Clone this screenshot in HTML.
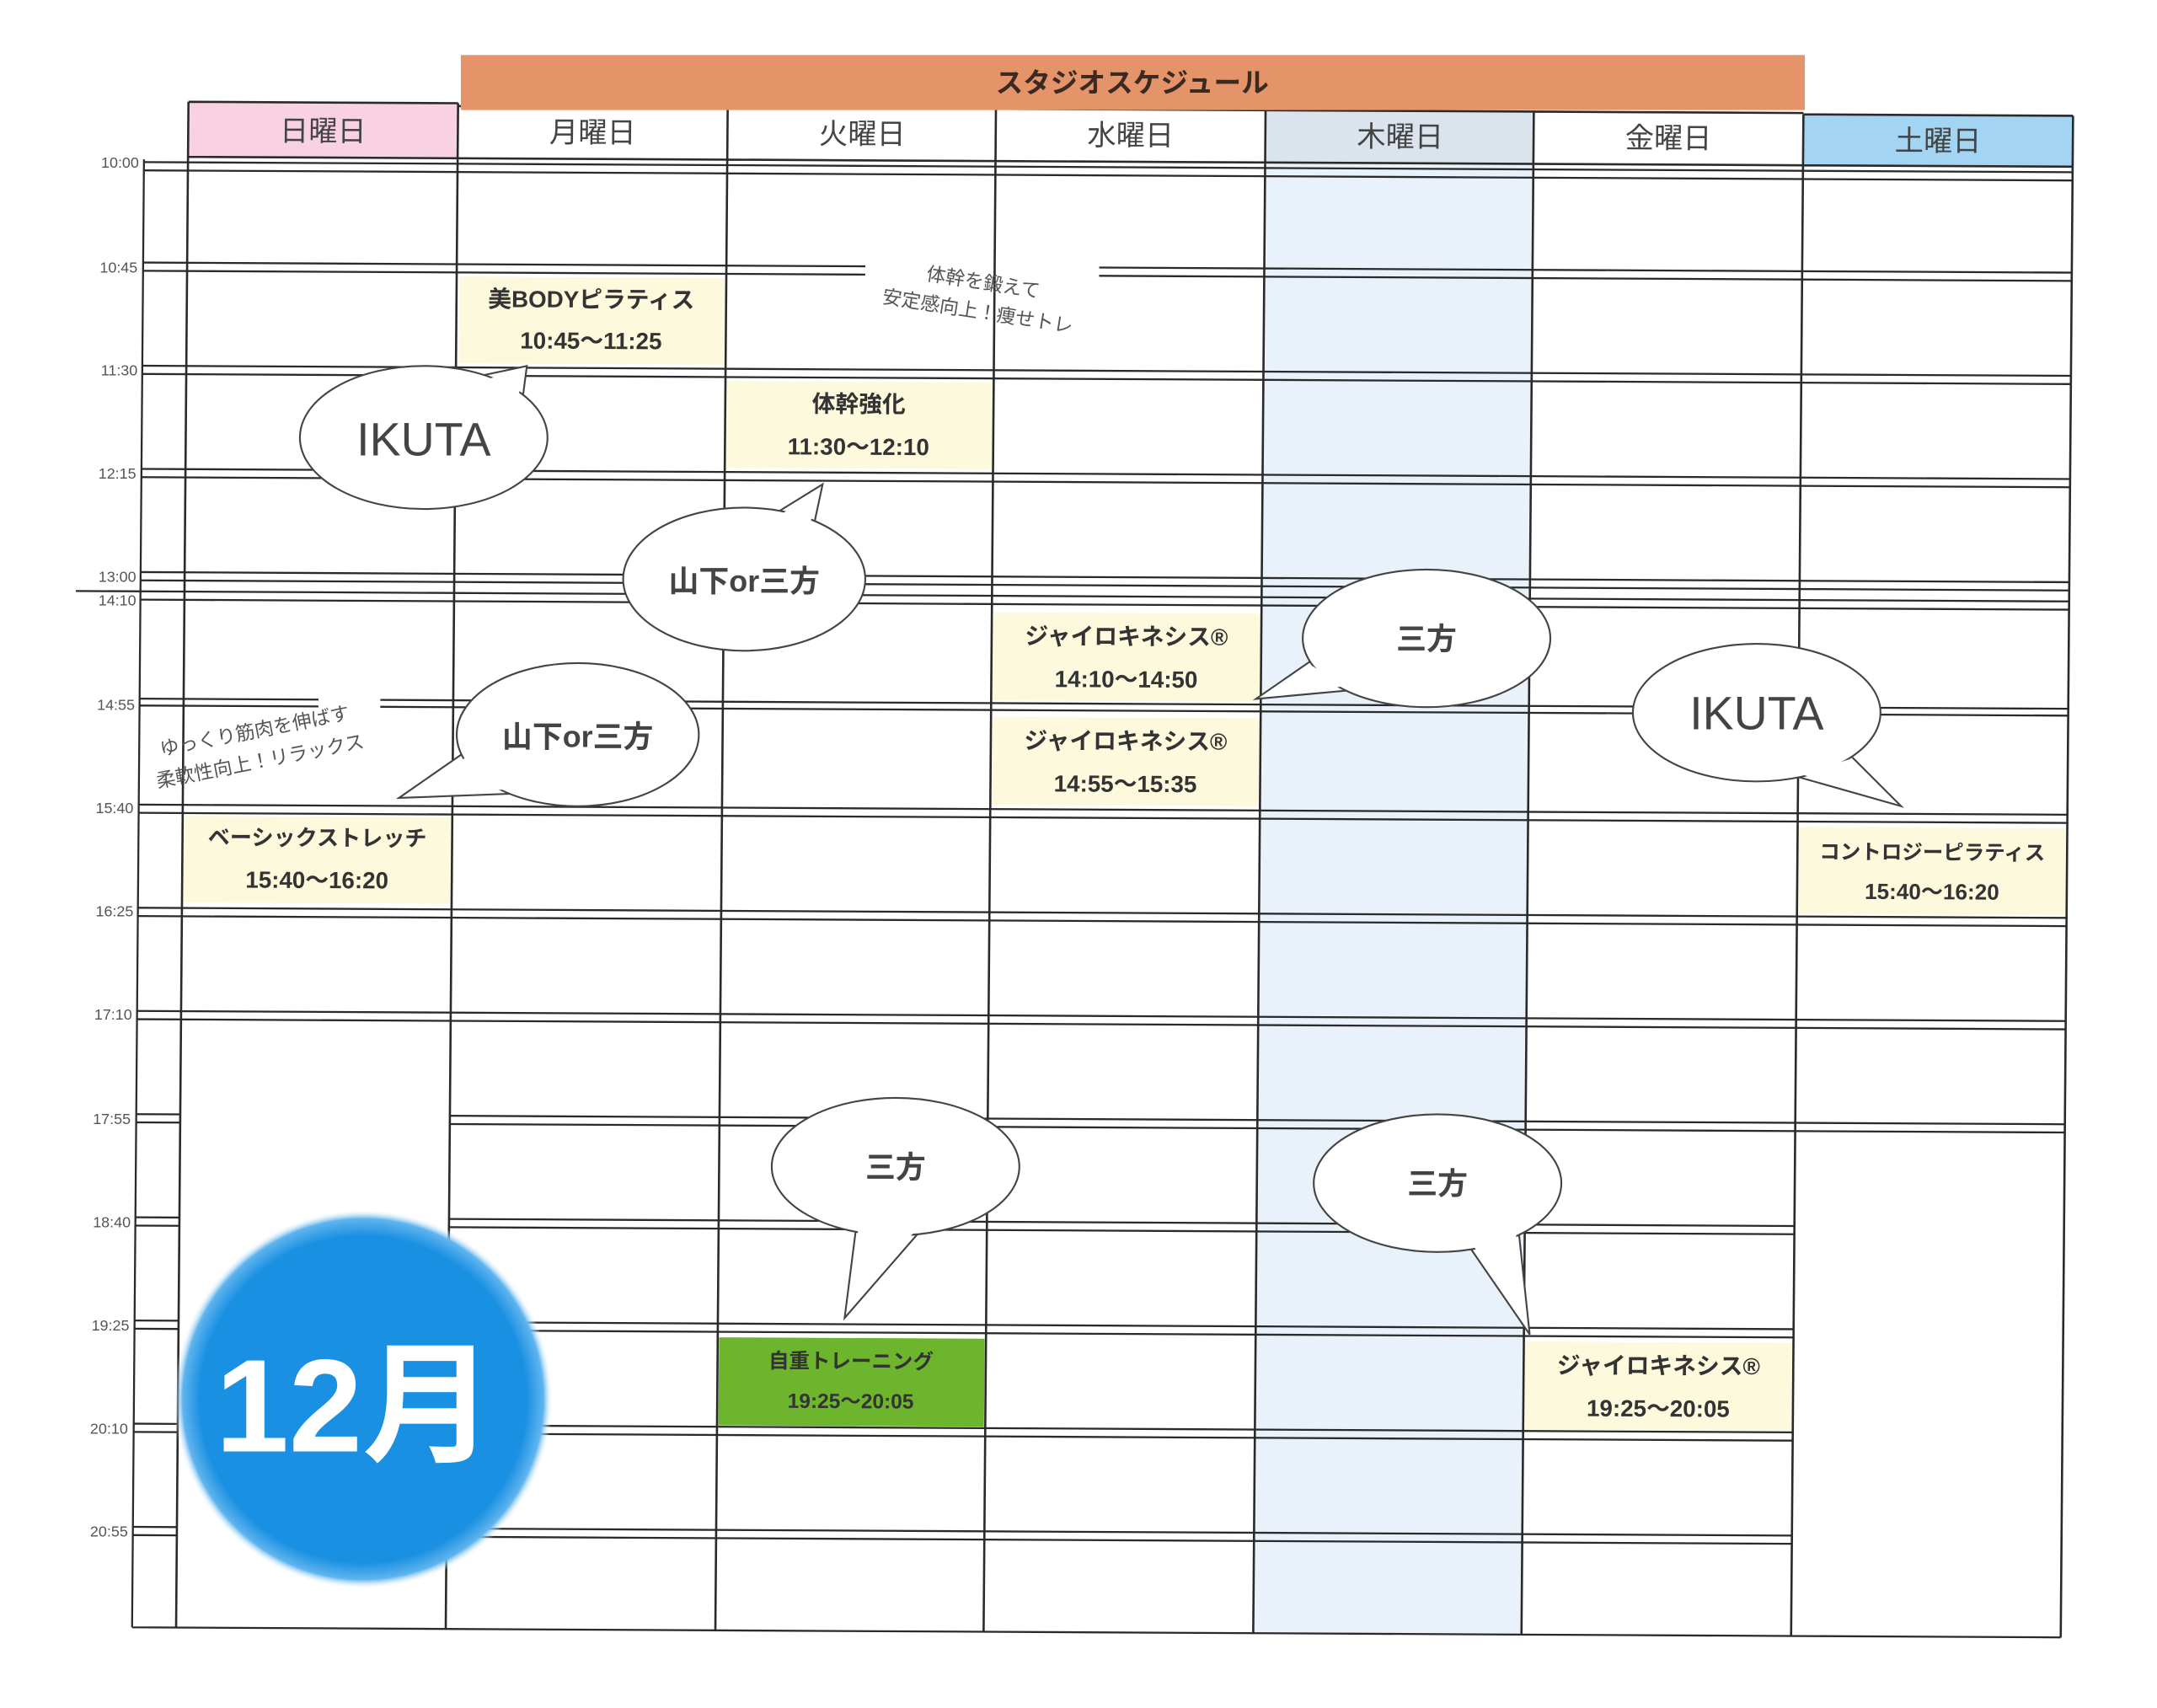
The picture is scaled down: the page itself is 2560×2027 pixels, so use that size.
<!DOCTYPE html>
<html><head><meta charset="utf-8"><style>
html,body{margin:0;padding:0;background:#fff;}
svg{display:block;}
text{font-family:"Liberation Sans","Noto Sans CJK JP",sans-serif;}
</style></head><body>
<svg width="2560" height="2027" viewBox="0 0 1568 1241.5" preserveAspectRatio="none" xmlns="http://www.w3.org/2000/svg">
<defs>
<radialGradient id="bl" cx="50%" cy="50%" r="50%">
<stop offset="0.86" stop-color="#1a90e2"/>
<stop offset="0.95" stop-color="#5fb4ee"/>
<stop offset="1" stop-color="#ffffff" stop-opacity="0"/>
</radialGradient>
</defs>
<rect width="1568" height="1241.5" fill="#fff"/>

<g transform="translate(137,74) matrix(1,0.00524,-0.0081,1,0,0) translate(-137,-74)" stroke="#2a2a2a" fill="none">
<rect x="137" y="74" width="196" height="40" fill="#f8d2e3" stroke="none"/>
<rect x="920" y="76" width="195" height="38" fill="#dbe3ec" stroke="none"/>
<rect x="920" y="114" width="195" height="1069" fill="#e9f2fa" stroke="none"/>
<rect x="1311" y="77" width="196" height="37" fill="#a3d5f2" stroke="none"/>
<g stroke="none">
<rect x="335" y="200" width="193" height="63" fill="#fdf9dc"/>
<rect x="530" y="275" width="193" height="63" fill="#fdf9dc"/>
<rect x="725" y="442" width="194" height="64" fill="#fdf9dc"/>
<rect x="725" y="518" width="194" height="64" fill="#fdf9dc"/>
<rect x="138" y="593" width="194" height="63" fill="#fdf9dc"/>
<rect x="1312" y="595" width="194" height="63" fill="#fdf9dc"/>
<rect x="530" y="970" width="193" height="64" fill="#6cb52c"/>
<rect x="1116" y="970" width="194" height="64" fill="#fdf9dc"/>
</g>
<path stroke-width="1.6" d="M137 74 H333 M333 76 H1311 M1311 77 H1507 M137 74 V1183 M333 74 V1183 M529 76 V1183 M724 76 V1183 M920 76 V1183 M1115 76 V1183 M1311 77 V1183 M1507 77 V1183 M137 114 H1507"/>
<path stroke-width="1.4" d="M105 116 V1183 M105 1183 H1507"/>
<g stroke-width="1.4">
<path d="M105 118 H1507 M105 124 H1507"/>
<path d="M105 191 H630 M105 197 H630 M800 191 H1507 M800 197 H1507"/>
<path d="M105 266 H1507 M105 272 H1507"/>
<path d="M105 341 H1507 M105 347 H1507"/>
<path d="M105 416 H1507 M105 422 H1507"/>
<path d="M58 430 H1507 M105 436 H1507"/>
<path d="M105 508 H235 M105 513 H235 M280 508 H1507 M280 513 H1507"/>
<path d="M105 585 H1507 M105 591 H1507"/>
<path d="M105 660 H1507 M105 666 H1507"/>
<path d="M105 735 H1507 M105 741 H1507"/>
<path d="M105 810 H137 M105 816 H137 M333 810 H1507 M333 816 H1507"/>
<path d="M105 885 H137 M105 891 H137 M333 885 H1311 M333 891 H1311"/>
<path d="M105 960 H137 M105 966 H137 M333 960 H1311 M333 966 H1311"/>
<path d="M105 1035 H137 M105 1041 H137 M333 1035 H1311 M333 1041 H1311"/>
<path d="M105 1110 H137 M105 1116 H137 M333 1110 H1311 M333 1116 H1311"/>
</g>
<g stroke="none" fill="#444" font-size="21" text-anchor="middle">
<text x="235" y="102">日曜日</text>
<text x="431" y="102">月曜日</text>
<text x="627" y="102">火曜日</text>
<text x="822" y="102">水曜日</text>
<text x="1018" y="102">木曜日</text>
<text x="1213" y="102">金曜日</text>
<text x="1409" y="103">土曜日</text>
</g>
<g stroke="none" fill="#333" font-size="17" font-weight="bold" text-anchor="middle">
<text x="431" y="222">美BODYピラティス</text><text x="431" y="252">10:45〜11:25</text>
<text x="626" y="297">体幹強化</text><text x="626" y="328">11:30〜12:10</text>
<text x="822" y="465">ジャイロキネシス®</text><text x="822" y="496">14:10〜14:50</text>
<text x="822" y="541">ジャイロキネシス®</text><text x="822" y="572">14:55〜15:35</text>
<text x="235" y="614" font-size="16">ベーシックストレッチ</text><text x="235" y="645">15:40〜16:20</text>
<text x="1409" y="618" font-size="15">コントロジーピラティス</text><text x="1409" y="647" font-size="16">15:40〜16:20</text>
<text x="626" y="992" font-size="15">自重トレーニング</text><text x="626" y="1021" font-size="15">19:25〜20:05</text>
<text x="1213" y="993">ジャイロキネシス®</text><text x="1213" y="1024">19:25〜20:05</text>
</g>
</g>

<rect x="335" y="40" width="977" height="40" fill="#e5946a"/>
<text x="823" y="67" font-size="20" font-weight="bold" fill="#3a2a22" text-anchor="middle">スタジオスケジュール</text>

<g fill="#555" font-size="11" text-anchor="end">
<text x="101" y="122">10:00</text>
<text x="100" y="198">10:45</text>
<text x="100" y="273">11:30</text>
<text x="99" y="348">12:15</text>
<text x="99" y="423">13:00</text>
<text x="99" y="440">14:10</text>
<text x="98" y="516">14:55</text>
<text x="97" y="591">15:40</text>
<text x="97" y="666">16:25</text>
<text x="96" y="741">17:10</text>
<text x="95" y="817">17:55</text>
<text x="95" y="892">18:40</text>
<text x="94" y="967">19:25</text>
<text x="93" y="1042">20:10</text>
<text x="93" y="1117">20:55</text>
</g>

<g fill="#555" font-size="14" text-anchor="middle">
<text transform="translate(714,210) rotate(9)">体幹を鍛えて</text>
<text transform="translate(710,231) rotate(9)">安定感向上！痩せトレ</text>
<text transform="translate(186,536) rotate(-11)">ゆっくり筋肉を伸ばす</text>
<text transform="translate(190,558) rotate(-11)">柔軟性向上！リラックス</text>
</g>

<g stroke="#444" stroke-width="1.3" fill="#fff">
<polygon points="350,273 383,266 380,289"/>
<ellipse cx="308" cy="318" rx="90" ry="52"/>
<polygon points="352,276 381,269 377,287" stroke="none"/>
<polygon points="564,373 598,352 592,380"/>
<ellipse cx="541" cy="421" rx="88" ry="52"/>
<polygon points="566,375 596,356 589,380" stroke="none"/>
<polygon points="336,548 290,580 370,577"/>
<ellipse cx="420" cy="534" rx="88" ry="52"/>
<polygon points="338,551 296,577 366,574" stroke="none"/>
<polygon points="952,481 913,508 979,502"/>
<ellipse cx="1037" cy="464" rx="90" ry="50"/>
<polygon points="954,484 920,505 976,499" stroke="none"/>
<polygon points="1346,550 1382,586 1308,565"/>
<ellipse cx="1277" cy="518" rx="90" ry="50"/>
<polygon points="1344,552 1376,582 1310,563" stroke="none"/>
<polygon points="622,895 614,958 667,897"/>
<ellipse cx="651" cy="848" rx="90" ry="50"/>
<polygon points="624,893 616,952 665,895" stroke="none"/>
<polygon points="1068,906 1112,970 1104,895"/>
<ellipse cx="1045" cy="860" rx="90" ry="50"/>
<polygon points="1070,904 1109,962 1102,897" stroke="none"/>
</g>
<g fill="#444" text-anchor="middle">
<text x="308" y="331" font-size="34">IKUTA</text>
<text x="541" y="430" font-size="22" font-weight="bold">山下or三方</text>
<text x="420" y="543" font-size="22" font-weight="bold">山下or三方</text>
<text x="1037" y="472" font-size="22" font-weight="bold">三方</text>
<text x="1277" y="530" font-size="34">IKUTA</text>
<text x="651" y="856" font-size="22" font-weight="bold">三方</text>
<text x="1045" y="868" font-size="22" font-weight="bold">三方</text>
</g>

<circle cx="264" cy="1017" r="138" fill="url(#bl)"/>
<text x="258" y="1055" font-size="96" font-weight="bold" fill="#fff" text-anchor="middle">12月</text>
</svg>
</body></html>
